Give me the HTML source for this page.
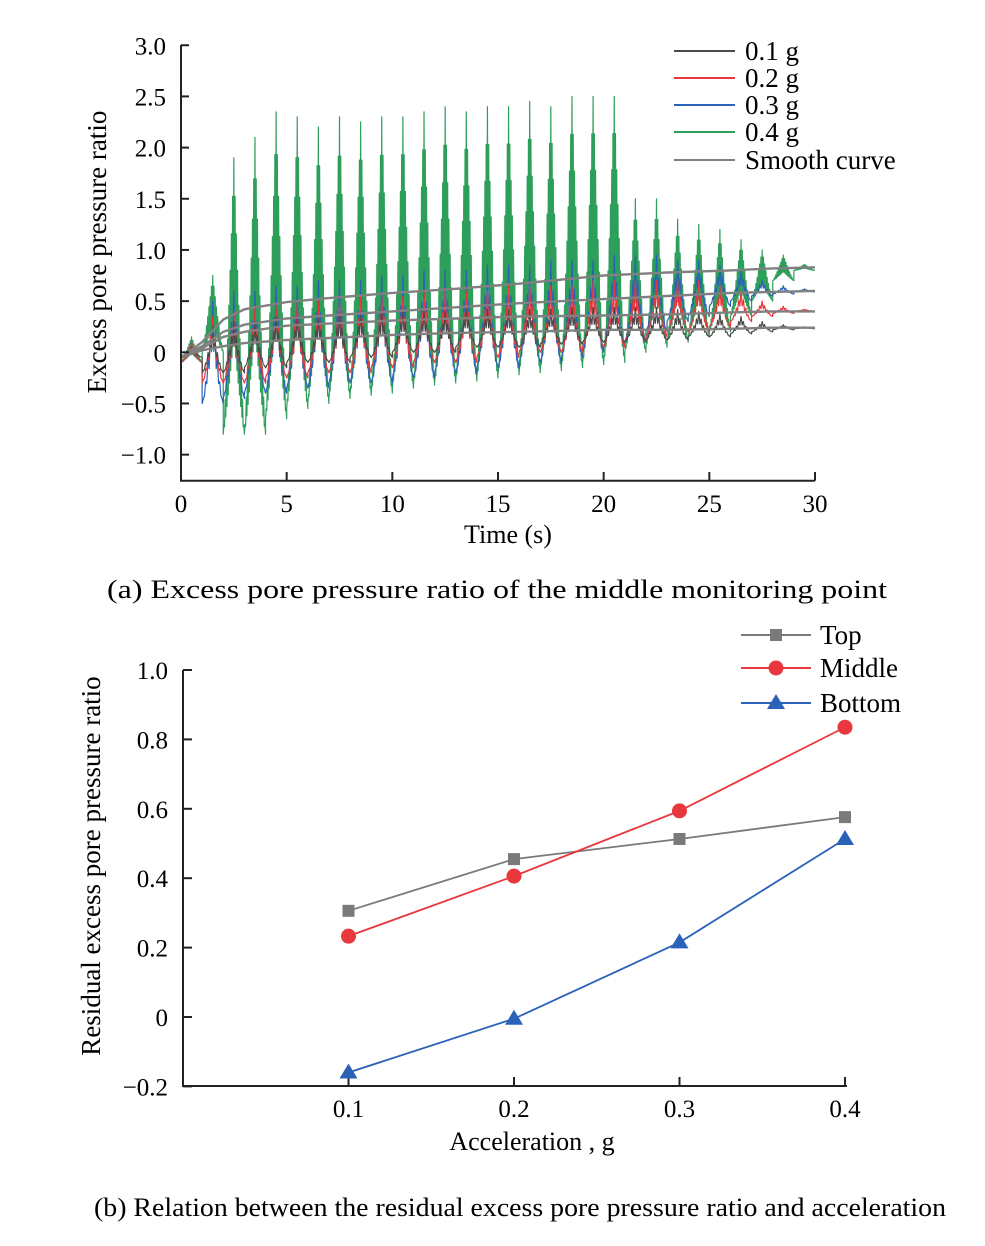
<!DOCTYPE html>
<html><head><meta charset="utf-8"><style>
html,body{margin:0;padding:0;background:#fff}
svg{display:block;font-family:"Liberation Serif",serif}
</style></head><body>
<svg id="svg" width="985" height="1246" viewBox="0 0 985 1246" xmlns="http://www.w3.org/2000/svg">
<g id="topchart"></g>
<g id="botchart"></g>
<text x="497" y="598" font-size="26" text-anchor="middle" textLength="780" lengthAdjust="spacingAndGlyphs">(a) Excess pore pressure ratio of the middle monitoring point</text>
<text x="520" y="1216" font-size="26" text-anchor="middle" textLength="852" lengthAdjust="spacingAndGlyphs">(b) Relation between the residual excess pore pressure ratio and acceleration</text>
</svg>
<script>
// ---------- Top chart data (per-second cycle peaks/troughs, t = 0..29) ----------
const timeTicks = [0,5,10,15,20,25,30];
const ratioTicks = [3.0,2.5,2.0,1.5,1.0,0.5,0,-0.5,-1.0];
const ratioTickLabels = ["3.0","2.5","2.0","1.5","1.0","0.5","0","\u22120.5","\u22121.0"];
const seriesNames = ["0.1 g","0.2 g","0.3 g","0.4 g","Smooth curve"];
const peaks04 = [0.15,0.75,1.9,2.1,2.35,2.3,2.2,2.3,2.25,2.3,2.3,2.35,2.4,2.35,2.4,2.4,2.45,2.4,2.5,2.5,2.5,1.5,1.5,1.3,1.25,1.2,1.1,1.0,0.95,0.86];
const troughs04 = [-0.1,0.0,-0.8,-0.8,-0.65,-0.55,-0.5,-0.45,-0.42,-0.4,-0.35,-0.32,-0.3,-0.28,-0.25,-0.22,-0.2,-0.18,-0.15,-0.12,-0.1,0.0,0.05,0.1,0.15,0.2,0.35,0.5,0.7,0.8];
const peaks03 = [0.1,0.5,0.6,0.6,0.65,0.65,0.7,0.7,0.7,0.75,0.75,0.8,0.8,0.8,0.85,0.85,0.85,0.9,0.9,0.9,0.95,0.95,0.95,0.9,0.9,0.85,0.8,0.7,0.65,0.62];
const troughs03 = [-0.1,-0.5,-0.45,-0.4,-0.4,-0.35,-0.35,-0.3,-0.3,-0.3,-0.25,-0.25,-0.2,-0.2,-0.15,-0.15,-0.1,-0.1,-0.05,0,0.05,0.1,0.2,0.3,0.35,0.45,0.5,0.55,0.57,0.59];
const peaks02 = [0.1,0.35,0.4,0.45,0.45,0.5,0.5,0.5,0.55,0.55,0.55,0.6,0.6,0.6,0.6,0.65,0.65,0.65,0.65,0.7,0.7,0.7,0.7,0.7,0.7,0.65,0.6,0.5,0.45,0.42];
const troughs02 = [-0.1,-0.3,-0.3,-0.3,-0.25,-0.25,-0.2,-0.2,-0.2,-0.15,-0.15,-0.1,-0.1,-0.1,-0.05,-0.05,0,0,0,0.05,0.05,0.1,0.15,0.2,0.2,0.25,0.3,0.35,0.38,0.4];
const peaks01 = [0.05,0.25,0.3,0.3,0.35,0.35,0.35,0.38,0.38,0.4,0.4,0.4,0.4,0.42,0.42,0.42,0.42,0.42,0.44,0.44,0.44,0.44,0.44,0.42,0.4,0.38,0.35,0.3,0.27,0.25];
const troughs01 = [-0.05,-0.2,-0.2,-0.15,-0.15,-0.1,-0.1,-0.1,-0.05,-0.05,0,0,0,0.05,0.05,0.05,0.05,0.08,0.08,0.1,0.1,0.1,0.12,0.12,0.15,0.15,0.18,0.2,0.22,0.23];
const smoothT = [0,1,2,3,5,7,10,13,16,20,23,26,28,30];
const smooth04 = [-0.05,0.1,0.32,0.42,0.49,0.53,0.58,0.62,0.67,0.75,0.78,0.8,0.82,0.83];
const smooth03 = [-0.05,0.06,0.2,0.27,0.33,0.36,0.4,0.44,0.48,0.52,0.55,0.58,0.59,0.6];
const smooth02 = [-0.05,0.04,0.15,0.2,0.26,0.28,0.31,0.33,0.35,0.36,0.37,0.39,0.4,0.4];
const smooth01 = [-0.05,0.02,0.06,0.09,0.12,0.14,0.17,0.19,0.2,0.22,0.22,0.23,0.24,0.24];

// ---------- Bottom chart data ----------
const accel = [0.1,0.2,0.3,0.4];
const accelTicks = [0.1,0.2,0.3,0.4];
const residTicks = [1.0,0.8,0.6,0.4,0.2,0,-0.2];
const residTickLabels = ["1.0","0.8","0.6","0.4","0.2","0","\u22120.2"];
const topVals = [0.306,0.455,0.513,0.576];
const middleVals = [0.233,0.406,0.594,0.835];
const bottomVals = [-0.16,-0.005,0.215,0.513];

const NS="http://www.w3.org/2000/svg";
function mk(tag,attrs,parent){const e=document.createElementNS(NS,tag);for(const k in attrs)e.setAttribute(k,attrs[k]);parent.appendChild(e);return e;}

// ===== Top chart =====
const topG=document.getElementById('topchart');
const X1=t=>181+t*(815-181)/30;
const Y1=v=>352.3-v*102.35;
const cols={k:"#4a4a4a",r:"#e8383d",b:"#2a62b8",g:"#2e9e5b",s:"#808080"};
function osc(peaks,troughs,col,name,lowFrac,n,pw){
  let d="";
  for(let i=0;i<peaks.length;i++){
    const p=peaks[i],tr=troughs[i];
    for(let j=0;j<=n;j++){
      const ph=j/n;
      let s=1-Math.abs(ph-0.5)/0.5;
      s=Math.pow(s,pw);
      const up=tr+(p-tr)*s;
      const lo=tr+(p-tr)*s*lowFrac;
      const v=(j%2)?up:lo;
      const t=i+ph;
      d+=(d?"L":"M")+X1(t).toFixed(2)+" "+Y1(v).toFixed(1);
    }
  }
  const last=troughs[troughs.length-1];
  d+="L"+X1(30).toFixed(1)+" "+Y1(last).toFixed(1);
  const el=mk('path',{d:d,fill:"none",stroke:col,"stroke-width":1.2,"stroke-linejoin":"round"},topG);
  
  
}
osc(peaks04,troughs04,cols.g,"series-0.4g",0.35,34,1.2);
osc(peaks03,troughs03,cols.b,"series-0.3g",0.6,18,1.4);
osc(peaks02,troughs02,cols.r,"series-0.2g",0.6,18,1.4);
osc(peaks01,troughs01,cols.k,"series-0.1g",0.6,18,1.4);
[smooth01,smooth02,smooth03,smooth04].forEach((arr,k)=>{
  let d="";arr.forEach((v,i)=>{d+=(i?"L":"M")+X1(smoothT[i]).toFixed(1)+" "+Y1(v).toFixed(1);});
  const el=mk('path',{d:d,fill:"none",stroke:cols.s,"stroke-width":2.4},topG);
  
  
});
let ax=mk('path',{d:"M181 45V480.7H815",fill:"none",stroke:"#222","stroke-width":2},topG);


ratioTicks.forEach((v,i)=>{
  const y=Y1(v);
  const tk=mk('line',{x1:181,x2:189,y1:y,y2:y,stroke:"#222","stroke-width":2},topG);
  
  
  const tx=mk('text',{x:166,y:y+9,"font-size":25,"text-anchor":"end"},topG);
  tx.textContent=ratioTickLabels[i];
  
  
});
timeTicks.forEach(t=>{
  const x=X1(t);
  if(t>0){const tk=mk('line',{x1:x,x2:x,y1:480.7,y2:472,stroke:"#222","stroke-width":2},topG);
  
  }
  const tx=mk('text',{x:x,y:512,"font-size":25,"text-anchor":"middle"},topG);
  tx.textContent=t;
  
  
});
let tt=mk('text',{x:508,y:543,"font-size":26,"text-anchor":"middle"},topG);
tt.textContent="Time (s)";


tt=mk('text',{x:0,y:0,"font-size":27,"text-anchor":"middle",transform:"translate(106,252) rotate(-90)"},topG);
tt.textContent="Excess pore pressure ratio";


const legCols=[cols.k,cols.r,cols.b,cols.g,cols.s];
const legY=[51,78,105,132,160];
seriesNames.forEach((n,i)=>{
  const g=mk('g',{},topG);
  
  
  mk('line',{x1:674,x2:735,y1:legY[i],y2:legY[i],stroke:legCols[i],"stroke-width":2},g);
  const tx=mk('text',{x:745,y:legY[i]+9,"font-size":27},g);
  tx.textContent=n;
});

// ===== Bottom chart =====
const botG=document.getElementById('botchart');
const X2=a=>183+a*(845-183)/0.4;
const Y2=v=>1017-v*347;
ax=mk('path',{d:"M183 670V1086H847",fill:"none",stroke:"#222","stroke-width":2},botG);


residTicks.forEach((v,i)=>{
  const y=Y2(v);
  const tk=mk('line',{x1:183,x2:192,y1:y,y2:y,stroke:"#222","stroke-width":2},botG);
  
  
  const tx=mk('text',{x:168,y:y+9,"font-size":25,"text-anchor":"end"},botG);
  tx.textContent=residTickLabels[i];
  
  
});
accelTicks.forEach(a=>{
  const x=X2(a);
  const tk=mk('line',{x1:x,x2:x,y1:1086,y2:1077,stroke:"#222","stroke-width":2},botG);
  
  
  const tx=mk('text',{x:x,y:1117,"font-size":25,"text-anchor":"middle"},botG);
  tx.textContent=a.toFixed(1);
  
  
});
tt=mk('text',{x:532,y:1150,"font-size":26,"text-anchor":"middle"},botG);
tt.textContent="Acceleration , g";


tt=mk('text',{x:0,y:0,"font-size":27,"text-anchor":"middle",transform:"translate(100,866) rotate(-90)"},botG);
tt.textContent="Residual excess pore pressure ratio";


function marker(shape,x,y,col,parent){
  if(shape==="sq") return mk('rect',{x:x-6,y:y-6,width:12,height:12,fill:col},parent);
  if(shape==="ci") return mk('circle',{cx:x,cy:y,r:7.5,fill:col},parent);
  return mk('path',{d:`M${x} ${y-9}L${x+9} ${y+6}L${x-9} ${y+6}Z`,fill:col},parent);
}
const bSeries=[[topVals,"#7a7a7a","sq","Top"],[middleVals,"#e8383d","ci","Middle"],[bottomVals,"#2a62b8","tr","Bottom"]];
const bLegY=[635,668,703];
bSeries.forEach((s,k)=>{
  const [vals,col,shp,name]=s;
  const g=mk('g',{},botG);
  
  
  let d="";vals.forEach((v,i)=>{d+=(i?"L":"M")+X2(accel[i])+" "+Y2(v);});
  mk('path',{d:d,fill:"none",stroke:col,"stroke-width":1.8},g);
  vals.forEach((v,i)=>{
    const m=marker(shp,X2(accel[i]),Y2(v),col,g);
    
    
  });
  const lg=mk('g',{},botG);
  
  
  mk('line',{x1:741,x2:811,y1:bLegY[k],y2:bLegY[k],stroke:col,"stroke-width":2},lg);
  marker(shp,776,bLegY[k],col,lg);
  const tx=mk('text',{x:820,y:bLegY[k]+9,"font-size":27},lg);
  tx.textContent=name;
});
</script>
</body></html>
